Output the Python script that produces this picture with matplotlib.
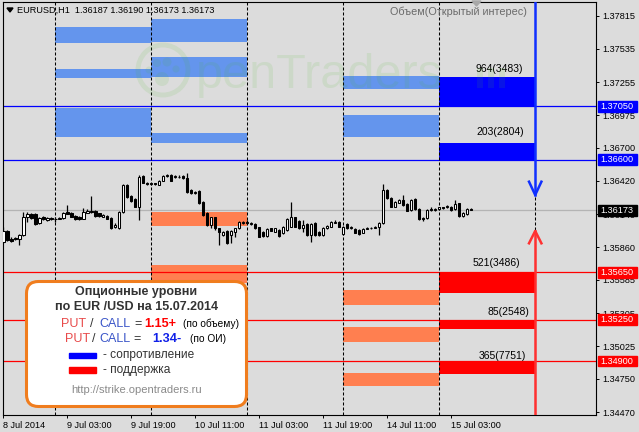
"""
EURUSD H1 с опционными уровнями (стиль MetaTrader), перерисовка в matplotlib.
"""

import matplotlib

matplotlib.use("Agg")
import matplotlib.pyplot as plt
from matplotlib.patches import Circle, FancyBboxPatch, Polygon, Rectangle

plt.rcParams["font.family"] = ["Liberation Sans", "DejaVu Sans"]

# --- свечи H1: 8 Jul 11:00 ... 15 Jul 08:00 (индекс бара = час, без выходных) ---
opens = [
    1.35909, 1.35998, 1.35934, 1.35940, 1.35934, 1.35962, 1.36119, 1.36142, 1.36142, 1.36063,
    1.36114, 1.36091, 1.36105, 1.36100, 1.36100, 1.36105, 1.36161, 1.36153, 1.36125, 1.36119,
    1.36102, 1.36153, 1.36167, 1.36167, 1.36147, 1.36119, 1.36125, 1.36111, 1.36035, 1.36021,
    1.36161, 1.36386, 1.36294, 1.36265, 1.36204, 1.36462, 1.36406, 1.36395, 1.36400, 1.36386,
    1.36423, 1.36462, 1.36471, 1.36451, 1.36457, 1.36462, 1.36442, 1.36344, 1.36316, 1.36338,
    1.36246, 1.36147, 1.36049, 1.36114, 1.36021, 1.35965, 1.35998, 1.35965, 1.35993, 1.36021,
    1.36063, 1.36072, 1.36058, 1.36058, 1.36030, 1.35993, 1.35956, 1.36021, 1.35993, 1.36007,
    1.35979, 1.36007, 1.36035, 1.36114, 1.36086, 1.36021, 1.36058, 1.35965, 1.36069, 1.35993,
    1.35965, 1.36021, 1.36035, 1.36069, 1.36077, 1.35973, 1.36058, 1.36021, 1.36012, 1.36007,
    1.35984, 1.36018, 1.36027, 1.36027, 1.36035, 1.36063, 1.36344, 1.36279, 1.36204, 1.36237,
    1.36260, 1.36223, 1.36176, 1.36265, 1.36181, 1.36108, 1.36105, 1.36184, 1.36176, 1.36181,
    1.36198, 1.36198, 1.36204, 1.36181, 1.36232, 1.36125, 1.36142, 1.36187,
]
highs = [
    1.36035, 1.36007, 1.35945, 1.35951, 1.35973, 1.36161, 1.36161, 1.36153, 1.36153, 1.36114,
    1.36125, 1.36114, 1.36114, 1.36114, 1.36119, 1.36161, 1.36218, 1.36161, 1.36133, 1.36125,
    1.36190, 1.36181, 1.36294, 1.36176, 1.36153, 1.36142, 1.36133, 1.36119, 1.36063, 1.36170,
    1.36395, 1.36395, 1.36305, 1.36274, 1.36471, 1.36471, 1.36412, 1.36406, 1.36406, 1.36428,
    1.36471, 1.36479, 1.36479, 1.36471, 1.36468, 1.36471, 1.36490, 1.36350, 1.36338, 1.36344,
    1.36254, 1.36161, 1.36119, 1.36119, 1.36027, 1.36001, 1.36007, 1.36007, 1.36027, 1.36083,
    1.36086, 1.36091, 1.36077, 1.36063, 1.36035, 1.36001, 1.36021, 1.36027, 1.36027, 1.36015,
    1.36041, 1.36105, 1.36246, 1.36119, 1.36091, 1.36091, 1.36069, 1.36069, 1.36077, 1.36001,
    1.36035, 1.36049, 1.36086, 1.36091, 1.36083, 1.36041, 1.36063, 1.36041, 1.36021, 1.36012,
    1.36021, 1.36035, 1.36035, 1.36044, 1.36077, 1.36392, 1.36350, 1.36288, 1.36254, 1.36265,
    1.36302, 1.36232, 1.36265, 1.36274, 1.36190, 1.36119, 1.36181, 1.36204, 1.36190, 1.36204,
    1.36204, 1.36215, 1.36209, 1.36260, 1.36237, 1.36161, 1.36190, 1.36190,
]
lows = [
    1.35895, 1.35917, 1.35909, 1.35923, 1.35881, 1.35956, 1.36077, 1.36097, 1.36049, 1.36058,
    1.36091, 1.36083, 1.36091, 1.36077, 1.36097, 1.36100, 1.36139, 1.36114, 1.36091, 1.36091,
    1.36097, 1.36147, 1.36147, 1.36119, 1.36114, 1.36114, 1.36097, 1.36015, 1.36021, 1.36015,
    1.36153, 1.36274, 1.36246, 1.36198, 1.36091, 1.36400, 1.36386, 1.36386, 1.36389, 1.36383,
    1.36417, 1.36457, 1.36417, 1.36445, 1.36445, 1.36437, 1.36321, 1.36310, 1.36310, 1.36226,
    1.36128, 1.36044, 1.36021, 1.36007, 1.35881, 1.35956, 1.35889, 1.35895, 1.35951, 1.36015,
    1.36058, 1.36058, 1.36052, 1.36015, 1.35945, 1.35951, 1.35951, 1.35996, 1.35987, 1.35951,
    1.35973, 1.36001, 1.36030, 1.36030, 1.36015, 1.35993, 1.35956, 1.35909, 1.35959, 1.35956,
    1.35959, 1.36015, 1.36030, 1.36063, 1.36030, 1.35968, 1.36015, 1.36015, 1.35979, 1.35968,
    1.35979, 1.36012, 1.36015, 1.36021, 1.35965, 1.36058, 1.36268, 1.36198, 1.36198, 1.36232,
    1.36212, 1.36164, 1.36170, 1.36176, 1.36091, 1.36083, 1.36100, 1.36170, 1.36170, 1.36176,
    1.36184, 1.36192, 1.36170, 1.36176, 1.36119, 1.36119, 1.36136, 1.36173,
]
closes = [
    1.35998, 1.35923, 1.35917, 1.35929, 1.35962, 1.36114, 1.36142, 1.36105, 1.36058, 1.36105,
    1.36100, 1.36105, 1.36097, 1.36097, 1.36111, 1.36153, 1.36142, 1.36119, 1.36097, 1.36097,
    1.36161, 1.36167, 1.36156, 1.36125, 1.36125, 1.36133, 1.36100, 1.36021, 1.36049, 1.36161,
    1.36386, 1.36282, 1.36254, 1.36204, 1.36457, 1.36406, 1.36392, 1.36400, 1.36395, 1.36423,
    1.36462, 1.36471, 1.36423, 1.36462, 1.36451, 1.36442, 1.36324, 1.36316, 1.36330, 1.36232,
    1.36133, 1.36049, 1.36114, 1.36021, 1.35993, 1.35993, 1.35895, 1.35998, 1.36021, 1.36077,
    1.36077, 1.36066, 1.36069, 1.36021, 1.35951, 1.35956, 1.36015, 1.36001, 1.36021, 1.35956,
    1.36035, 1.36097, 1.36114, 1.36035, 1.36021, 1.36049, 1.35965, 1.36058, 1.35965, 1.35965,
    1.36027, 1.36044, 1.36077, 1.36074, 1.36035, 1.36035, 1.36021, 1.36035, 1.35984, 1.35973,
    1.36012, 1.36027, 1.36021, 1.36035, 1.36069, 1.36344, 1.36274, 1.36204, 1.36246, 1.36260,
    1.36218, 1.36170, 1.36260, 1.36181, 1.36097, 1.36100, 1.36176, 1.36176, 1.36184, 1.36198,
    1.36190, 1.36206, 1.36176, 1.36226, 1.36125, 1.36153, 1.36184, 1.36173,
]

# начала суток (индекс бара 00:00): 9, 10, 11, 14, 15, 16 Jul
day_starts = [13, 37, 61, 85, 109, 133]
time_tick_pos = [0, 16, 32, 48, 64, 80, 96, 112]
time_tick_labels = ["8 Jul 2014", "9 Jul 03:00", "9 Jul 19:00", "10 Jul 11:00",
                    "11 Jul 03:00", "11 Jul 19:00", "14 Jul 11:00", "15 Jul 03:00"]
price_ticks = [1.37815, 1.37535, 1.37255, 1.36975, 1.36700, 1.36420, 1.36140,
               1.35860, 1.35585, 1.35305, 1.35025, 1.34750, 1.34470]

# уровни прошлых дней (светлые) и текущего дня (яркие): начало дня, низ, верх
call_day = [13, 13, 13, 37, 37, 37, 85, 85]
call_low = [1.37585, 1.37289, 1.36791, 1.37593, 1.37298, 1.36741, 1.37196, 1.36791]
call_high = [1.37720, 1.37365, 1.37036, 1.37787, 1.37466, 1.36825, 1.37306, 1.36977]
put_day = [37, 37, 85, 85, 85]
put_low = [1.36040, 1.35560, 1.35373, 1.35063, 1.34692]
put_high = [1.36158, 1.35711, 1.35500, 1.35185, 1.34797]
call_now_low = [1.37050, 1.36600]
call_now_high = [1.37298, 1.36738]
put_now_low = [1.35472, 1.35168, 1.34793]
put_now_high = [1.35650, 1.35250, 1.34900]
now_day = 109

resist_levels = [1.37050, 1.36600]
support_levels = [1.35650, 1.35250, 1.34900]
last_price = 1.36173

vol_labels = ["964(3483)", "203(2804)", "521(3486)", "85(2548)", "365(7751)"]
vol_label_x = [123.9, 124.3, 123.2, 126.2, 124.9]
vol_label_y = [1.37365, 1.36836, 1.35728, 1.35315, 1.34944]

arrow_x = 133
arrow_down_tip, arrow_down_arm = 1.36302, 1.36414
arrow_up_tip, arrow_up_arm = 1.35998, 1.35894

BG = "#dcdcdc"
LIGHT_BLUE = "#6495ed"
CORAL = "#ff7f50"
BLUE = "#0000ff"
RED = "#ff0000"

fig = plt.figure(figsize=(6.39, 4.32), dpi=100, facecolor=BG)
ax = fig.add_axes([3 / 639, 17 / 432, 593 / 639, 413 / 432])
ax.set_facecolor(BG)
ylo, yhi = 1.344448, 1.379306
ax.set_xlim(-0.08, 148.2)
ax.set_ylim(ylo, yhi)

# зоны опционных уровней
ax.bar(call_day, [h - l for l, h in zip(call_low, call_high)], 24, call_low,
       align="edge", color=LIGHT_BLUE, zorder=1)
ax.bar(put_day, [h - l for l, h in zip(put_low, put_high)], 24, put_low,
       align="edge", color=CORAL, zorder=1)
ax.bar([now_day] * 2, [h - l for l, h in zip(call_now_low, call_now_high)], 24,
       call_now_low, align="edge", color=BLUE, zorder=1)
ax.bar([now_day] * 3, [h - l for l, h in zip(put_now_low, put_now_high)], 24,
       put_now_low, align="edge", color=RED, zorder=1)

for lv in resist_levels:
    ax.axhline(lv, color=BLUE, lw=0.9, zorder=2)
for lv in support_levels:
    ax.axhline(lv, color=RED, lw=0.9, zorder=2)
ax.axhline(last_price, color="#b4b4b4", lw=0.9, zorder=2)

for d in day_starts:
    ax.axvline(d, color="black", lw=0.75, ls=(0, (2.9, 1.9)), zorder=3)

# свечи
idx = list(range(len(closes)))
ax.vlines(idx, lows, highs, color="black", lw=0.9, zorder=4)
bottoms = [min(o, c) for o, c in zip(opens, closes)]
heights = [max(abs(c - o), 0.000004) for o, c in zip(opens, closes)]
body_col = ["white" if c >= o else "black" for o, c in zip(opens, closes)]
ax.bar(idx, heights, 0.6, bottoms, color=body_col, edgecolor="black", lw=0.75, zorder=5)

for txt, x, y in zip(vol_labels, vol_label_x, vol_label_y):
    ax.text(x, y, txt, ha="center", va="center", fontsize=7.5, color="black", zorder=6)

# стрелки
ax.plot([arrow_x, arrow_x], [yhi, arrow_down_tip], color="#1030ff", lw=1.8, zorder=6)
ax.plot([arrow_x - 1.55, arrow_x, arrow_x + 1.55],
        [arrow_down_arm, arrow_down_tip, arrow_down_arm], color="#1030ff", lw=1.8, zorder=6)
ax.plot([arrow_x, arrow_x], [ylo, arrow_up_tip], color="#ff3030", lw=1.8, zorder=6)
ax.plot([arrow_x - 1.55, arrow_x, arrow_x + 1.55],
        [arrow_up_arm, arrow_up_tip, arrow_up_arm], color="#ff3030", lw=1.8, zorder=6)

# оси
ax.yaxis.tick_right()
ax.set_yticks(price_ticks)
ax.set_yticklabels([f"{p:.5f}" for p in price_ticks])
ax.tick_params(axis="y", direction="out", length=2.5, width=0.7, labelsize=6.6, pad=2)
ax.set_xticks(time_tick_pos)
ax.set_xticklabels(time_tick_labels, ha="left")
ax.tick_params(axis="x", direction="out", length=2.5, width=0.7, labelsize=6.6, pad=1.5)
for sp in ax.spines.values():
    sp.set_color("black")
    sp.set_linewidth(0.8)

# метки цен справа
box_h = 10.7 / 11848
yt = ax.get_yaxis_transform()
for lv, col in [(resist_levels[0], BLUE), (resist_levels[1], BLUE), (last_price, "black"),
                (support_levels[0], RED), (support_levels[1], RED), (support_levels[2], RED)]:
    ax.add_patch(Rectangle((1.0034, lv - box_h / 2), 0.066, box_h, transform=yt,
                           color=col, clip_on=False, zorder=7))
    ax.text(1.0075, lv, f"{lv:.5f}", transform=yt, ha="left", va="center",
            fontsize=6.6, color="white", clip_on=False, zorder=8)

# --- слой поверх графика в пиксельных координатах ---
ov = fig.add_axes([0, 0, 1, 1], zorder=5)
ov.set_xlim(0, 639)
ov.set_ylim(432, 0)
ov.axis("off")
ov.patch.set_alpha(0)

wm = (0.3, 0.72, 0.15)
ov.text(196, 88, "penTraders", fontsize=35, color=wm, alpha=0.11, ha="left", va="baseline")
ov.add_patch(Circle((163, 70), 25, fill=False, lw=3.5, ec=wm, alpha=0.11))
for cx, cy, r in [(157, 63, 4), (167, 62, 4.5), (176, 69, 3.5), (149, 70, 3.5), (162, 79, 7)]:
    ov.add_patch(Circle((cx, cy), r, fc=wm, ec="none", alpha=0.11))
for bx in [477, 488, 499]:
    ov.add_patch(Rectangle((bx, 68), 6, 20, fc=wm, ec="none", alpha=0.11))

ov.add_patch(Polygon([(7, 8), (13, 8), (10, 12)], closed=True, color="black"))
ov.text(17, 10.5, "EURUSD,H1  1.36187 1.36190 1.36173 1.36173", fontsize=6.6,
        ha="left", va="center", color="black")
ov.add_patch(Polygon([(472, 1), (481, 1), (476.5, 6)], closed=True, color="#a8a8a8"))
ov.text(527, 12, "Объем(Открытый интерес)", fontsize=7.8, ha="right", va="center",
        color="#6a6a6a")

# легенда
ov.add_patch(FancyBboxPatch((26.5, 281.5), 220, 125,
                            boxstyle="round,pad=0,rounding_size=12",
                            fc="white", ec="#f07d1e", lw=2.2))
dark = "#333333"
ov.text(136.5, 291.5, "Опционные уровни", ha="center", va="center", fontsize=9,
        fontweight="bold", color=dark)
ov.text(136.5, 307.5, "по EUR /USD на 15.07.2014", ha="center", va="center", fontsize=9,
        fontweight="bold", color=dark)
rows = [
    (324, [("PUT", 61, "#e84a4a", "normal", 9), ("/", 89.5, dark, "normal", 9),
           ("CALL", 99, "#3a55c8", "normal", 9), ("=", 134, dark, "normal", 9),
           ("1.15+", 144, RED, "bold", 9.2), ("(по объему)", 183, "black", "normal", 7.3)]),
    (339.5, [("PUT", 65, "#e84a4a", "normal", 9), ("/", 91.5, dark, "normal", 9),
             ("CALL", 99, "#3a55c8", "normal", 9), ("=", 133, dark, "normal", 9),
             ("1.34-", 152, "#1020e8", "bold", 9.2), ("(по ОИ)", 190, "black", "normal", 7.3)]),
]
for yy, parts in rows:
    for txt, xx, col, fw, fs in parts:
        ov.text(xx, yy, txt, ha="left", va="center", fontsize=fs, fontweight=fw, color=col)
ov.add_patch(Rectangle((69, 352.5), 27, 5.5, color=BLUE))
ov.add_patch(Rectangle((69, 367), 27, 5.5, color=RED))
ov.text(103, 355, "- сопротивление", ha="left", va="center", fontsize=8.6, color=dark)
ov.text(103, 369.5, "- поддержка", ha="left", va="center", fontsize=8.6, color=dark)
ov.text(136.5, 390, "http://strike.opentraders.ru", ha="center", va="center",
        fontsize=8, color="#8a8a8a")

fig.savefig("out.png", dpi=100, facecolor=BG)
